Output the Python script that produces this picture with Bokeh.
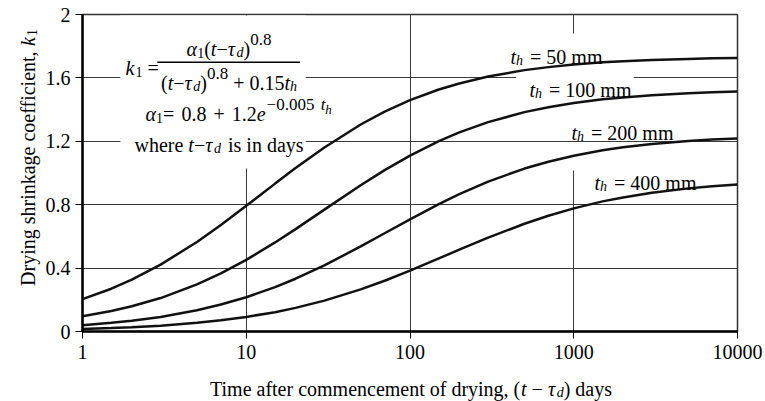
import math
from bokeh.plotting import figure
from bokeh.layouts import row, column
from bokeh.models import Label, BoxAnnotation, FixedTicker
from bokeh.embed import file_html
from bokeh.resources import INLINE

# ---- data ----
time_days = [1, 1.5, 2, 3, 5, 7, 10, 15, 20, 30, 50, 70, 100, 150, 200, 300,
             500, 700, 1000, 1500, 2000, 3000, 5000, 7000, 10000]
k1_th50 = [0.204, 0.270, 0.327, 0.422, 0.565, 0.672, 0.793, 0.933, 1.031, 1.161,
           1.306, 1.387, 1.460, 1.527, 1.565, 1.609, 1.649, 1.668, 1.684, 1.698,
           1.705, 1.713, 1.720, 1.724, 1.726]
k1_th100 = [0.096, 0.129, 0.159, 0.211, 0.297, 0.367, 0.452, 0.562, 0.646, 0.769,
            0.923, 1.018, 1.110, 1.201, 1.256, 1.321, 1.384, 1.415, 1.442, 1.465,
            1.477, 1.491, 1.503, 1.509, 1.514]
k1_th200 = [0.040, 0.055, 0.068, 0.092, 0.134, 0.170, 0.216, 0.280, 0.333, 0.417,
            0.537, 0.620, 0.708, 0.804, 0.867, 0.946, 1.028, 1.071, 1.109, 1.143,
            1.162, 1.183, 1.202, 1.211, 1.218]
k1_th400 = [0.016, 0.022, 0.027, 0.037, 0.055, 0.071, 0.092, 0.122, 0.149, 0.195,
            0.266, 0.320, 0.384, 0.461, 0.516, 0.592, 0.680, 0.730, 0.777, 0.821,
            0.846, 0.876, 0.903, 0.916, 0.927]
series_labels = ["50 mm", "100 mm", "200 mm", "400 mm"]
x_ticks = [1, 10, 100, 1000, 10000]
x_tick_labels = ["1", "10", "100", "1000", "10000"]
y_ticks = [0, 0.4, 0.8, 1.2, 1.6, 2]
y_tick_labels = ["0", "0.4", "0.8", "1.2", "1.6", "2"]

# ---- layout (window pixels) ----
W, H = 765, 401
FL, FR, FT, FB = 80, 737, 14, 331      # plot frame edges
YLW = 42                               # strip holding the y-axis title
XLH = 33                               # strip holding the x-axis title
MW, MH = W - YLW, H - XLH              # main figure size
FONT = "Liberation Serif"
BASE = 20

p = figure(width=MW, height=MH, x_axis_type="log", x_range=(1, 10000), y_range=(0, 2),
           output_backend="svg", toolbar_location=None,
           min_border_left=FL - YLW, min_border_right=W - FR,
           min_border_top=FT, min_border_bottom=MH - FB)
p.background_fill_color = "white"
p.border_fill_color = "white"
p.outline_line_color = "#333333"
p.outline_line_width = 1.5

p.xaxis.ticker = FixedTicker(ticks=x_ticks)
p.xaxis.major_label_overrides = dict(zip(x_ticks, x_tick_labels))
p.yaxis.ticker = FixedTicker(ticks=y_ticks)
p.yaxis.major_label_overrides = dict(zip(y_ticks, y_tick_labels))
for ax in (p.xaxis[0], p.yaxis[0]):
    ax.axis_line_color = "black"
    ax.axis_line_width = 2.5
    ax.major_tick_in = 0
    ax.major_tick_out = 7
    ax.major_tick_line_color = "black"
    ax.major_tick_line_width = 1
    ax.minor_tick_line_color = None
    ax.major_label_text_font = FONT
    ax.major_label_text_font_size = f"{BASE}px"
    ax.major_label_text_color = "black"
p.yaxis.major_label_standoff = 5
p.xaxis.major_label_standoff = 6

xg = p.xgrid[0]
yg = p.ygrid[0]
for g in (xg, yg):
    g.grid_line_color = "#3a3a3a"
    g.grid_line_width = 1


def xd(px):
    return 10 ** (4 * (px - FL) / (FR - FL))


def yd(py):
    return 2 * (FB - py) / (FB - FT)


def white_box(x0, x1, y0, y1):
    return BoxAnnotation(left=xd(x0), right=xd(x1), top=yd(y0), bottom=yd(y1),
                         fill_color="white", fill_alpha=1, line_color=None,
                         level="underlay")


box_v1000 = white_box(566, 580, 33, 170)
box_formula = white_box(118, 304, 15, 168)
box_lab100 = white_box(515, 633, 72, 95)
p.center = [xg, box_v1000, yg, box_formula, box_lab100]

# ---- curves ----
for ks in (k1_th50, k1_th100, k1_th200, k1_th400):
    p.line(time_days, ks, line_color="#111111", line_width=2.5)


# ---- strips for the axis titles ----
def strip(w, h, left, right, top, bottom):
    f = figure(width=w, height=h, x_range=(0, 1), y_range=(0, 1),
               output_backend="svg", toolbar_location=None,
               x_axis_location=None, y_axis_location=None,
               min_border=0, min_border_left=left, min_border_right=right,
               min_border_top=top, min_border_bottom=bottom)
    for g in f.grid:
        g.visible = False
    f.outline_line_color = None
    f.background_fill_color = "white"
    f.border_fill_color = "white"
    return f


ystrip = strip(YLW, H, 0, 0, FT, H - FB)
xstrip = strip(MW, XLH, FL - YLW, W - FR, 0, 0)

# target: (figure, anchor x, anchor y, window x of anchor, window y of anchor)
MAIN = (p, 1, 0, FL, FB)
XT = (xstrip, 0, 0, FL, H)
YT = (ystrip, 0, 0, 0, FB)

# ---- text helpers ----
CW = {' ': 250, '(': 333, ')': 333, '+': 564, ',': 250, '.': 250, '=': 564,
      '\u2212': 564, 'D': 722, 'T': 611, 'a': 444, 'b': 500, 'c': 444, 'd': 500,
      'e': 444, 'f': 333, 'g': 500, 'h': 500, 'i': 278, 'k': 500, 'l': 278,
      'm': 778, 'n': 500, 'o': 500, 'r': 333, 's': 389, 't': 278, 'w': 722,
      'y': 500, '\u03b1': 530, '\u03c4': 440}
KIND = {"n": (BASE, 0), "sub": (14, -4), "sup": (17, 9), "supsub": (13, 4)}


def tw(s, size):
    return sum(CW.get(c, 500) for c in s) * size / 1000


def text_at(tgt, px, py, s, size, style, angle=0.0):
    fig, ax_, ay_, ox, oy = tgt
    fig.add_layout(Label(x=ax_, y=ay_, x_offset=px - ox, y_offset=oy - py, text=s,
                         text_font=FONT, text_font_size=f"{size}px",
                         text_font_style=style, text_color="black",
                         text_align="left", text_baseline="alphabetic",
                         angle=angle))


def piece_adv(pc):
    s, st, k = pc[:3]
    extra = pc[3] if len(pc) > 3 else 0
    return extra + tw(s, KIND[k][0])


def run_width(pieces):
    return sum(piece_adv(pc) for pc in pieces)


def run(tgt, px, py, pieces, vertical=False):
    cur = 0
    for pc in pieces:
        s, style, kind = pc[:3]
        cur += pc[3] if len(pc) > 3 else 0
        size, dy = KIND[kind]
        lead = len(s) - len(s.lstrip(" "))
        shift = tw(" " * lead, size)
        body = s.strip(" ")
        if vertical:
            text_at(tgt, px - dy, py - cur - shift, body, size, style, angle=math.pi / 2)
        else:
            text_at(tgt, px + cur + shift, py - dy, body, size, style)
        cur += tw(s, size)


# formula block
num = [("\u03b1", "italic", "n"), ("1", "normal", "sub"), ("(", "normal", "n"),
       ("t", "italic", "n"), ("\u2212", "normal", "n"), ("\u03c4", "italic", "n"),
       ("d", "italic", "sub"), (")", "normal", "n"), ("0.8", "normal", "sup")]
den = [("(", "normal", "n"), ("t", "italic", "n"), ("\u2212", "normal", "n"),
       ("\u03c4", "italic", "n"), ("d", "italic", "sub"), (")", "normal", "n"),
       ("0.8", "normal", "sup"), (" + 0.15", "normal", "n"), ("t", "italic", "n"),
       ("h", "italic", "sub")]
bar_l, bar_r, bar_y = 155, 298, 61.7
cx = (bar_l + bar_r) / 2
run(MAIN, cx - run_width(num) / 2, 48, num)
run(MAIN, cx - run_width(den) / 2, 82, den)
p.add_layout(BoxAnnotation(left=xd(bar_l), right=xd(bar_r), top=yd(bar_y - 0.7),
                           bottom=yd(bar_y + 0.7), fill_color="black", fill_alpha=1,
                           line_color=None))
run(MAIN, 123, 67, [("k", "italic", "n"), ("1", "normal", "sub"), (" =", "normal", "n")])
run(MAIN, 143, 113, [("\u03b1", "italic", "n"), ("1", "normal", "sub"),
                     ("=", "normal", "n"), (" 0.8", "normal", "n", 2),
                     (" +", "normal", "n", 2), (" 1.2", "normal", "n", 2),
                     ("e", "italic", "n"),
                     ("\u22120.005 ", "normal", "sup", 1), ("t", "italic", "sup", 2),
                     ("h", "italic", "supsub")])
run(MAIN, 132, 144, [("where ", "normal", "n"), ("t", "italic", "n"),
                     ("\u2212", "normal", "n"), ("\u03c4", "italic", "n"),
                     ("d", "italic", "sub"), (" is in days", "normal", "n", 2)])

# curve labels
for (lx, ly), lab in zip([(508, 56), (527, 89), (569, 132), (592, 182)], series_labels):
    run(MAIN, lx, ly, [("t", "italic", "n"), ("h", "italic", "sub"),
                       (" = " + lab, "normal", "n", 2)])

# axis titles
xlab = [("Time after commencement of drying, (", "normal", "n"), ("t", "italic", "n"),
        (" \u2212 ", "normal", "n"), ("\u03c4", "italic", "n"), ("d", "italic", "sub"),
        (") days", "normal", "n")]
run(XT, (FL + FR) / 2 - run_width(xlab) / 2, 388, xlab)
ylab = [("Drying shrinkage coefficient, ", "normal", "n"), ("k", "italic", "n"),
        ("1", "normal", "sub")]
run(YT, 27, 157 + run_width(ylab) / 2, ylab, vertical=True)

layout = row(ystrip, column(p, xstrip, spacing=0), spacing=0)
open("out.html", "w").write(file_html(layout, INLINE))
